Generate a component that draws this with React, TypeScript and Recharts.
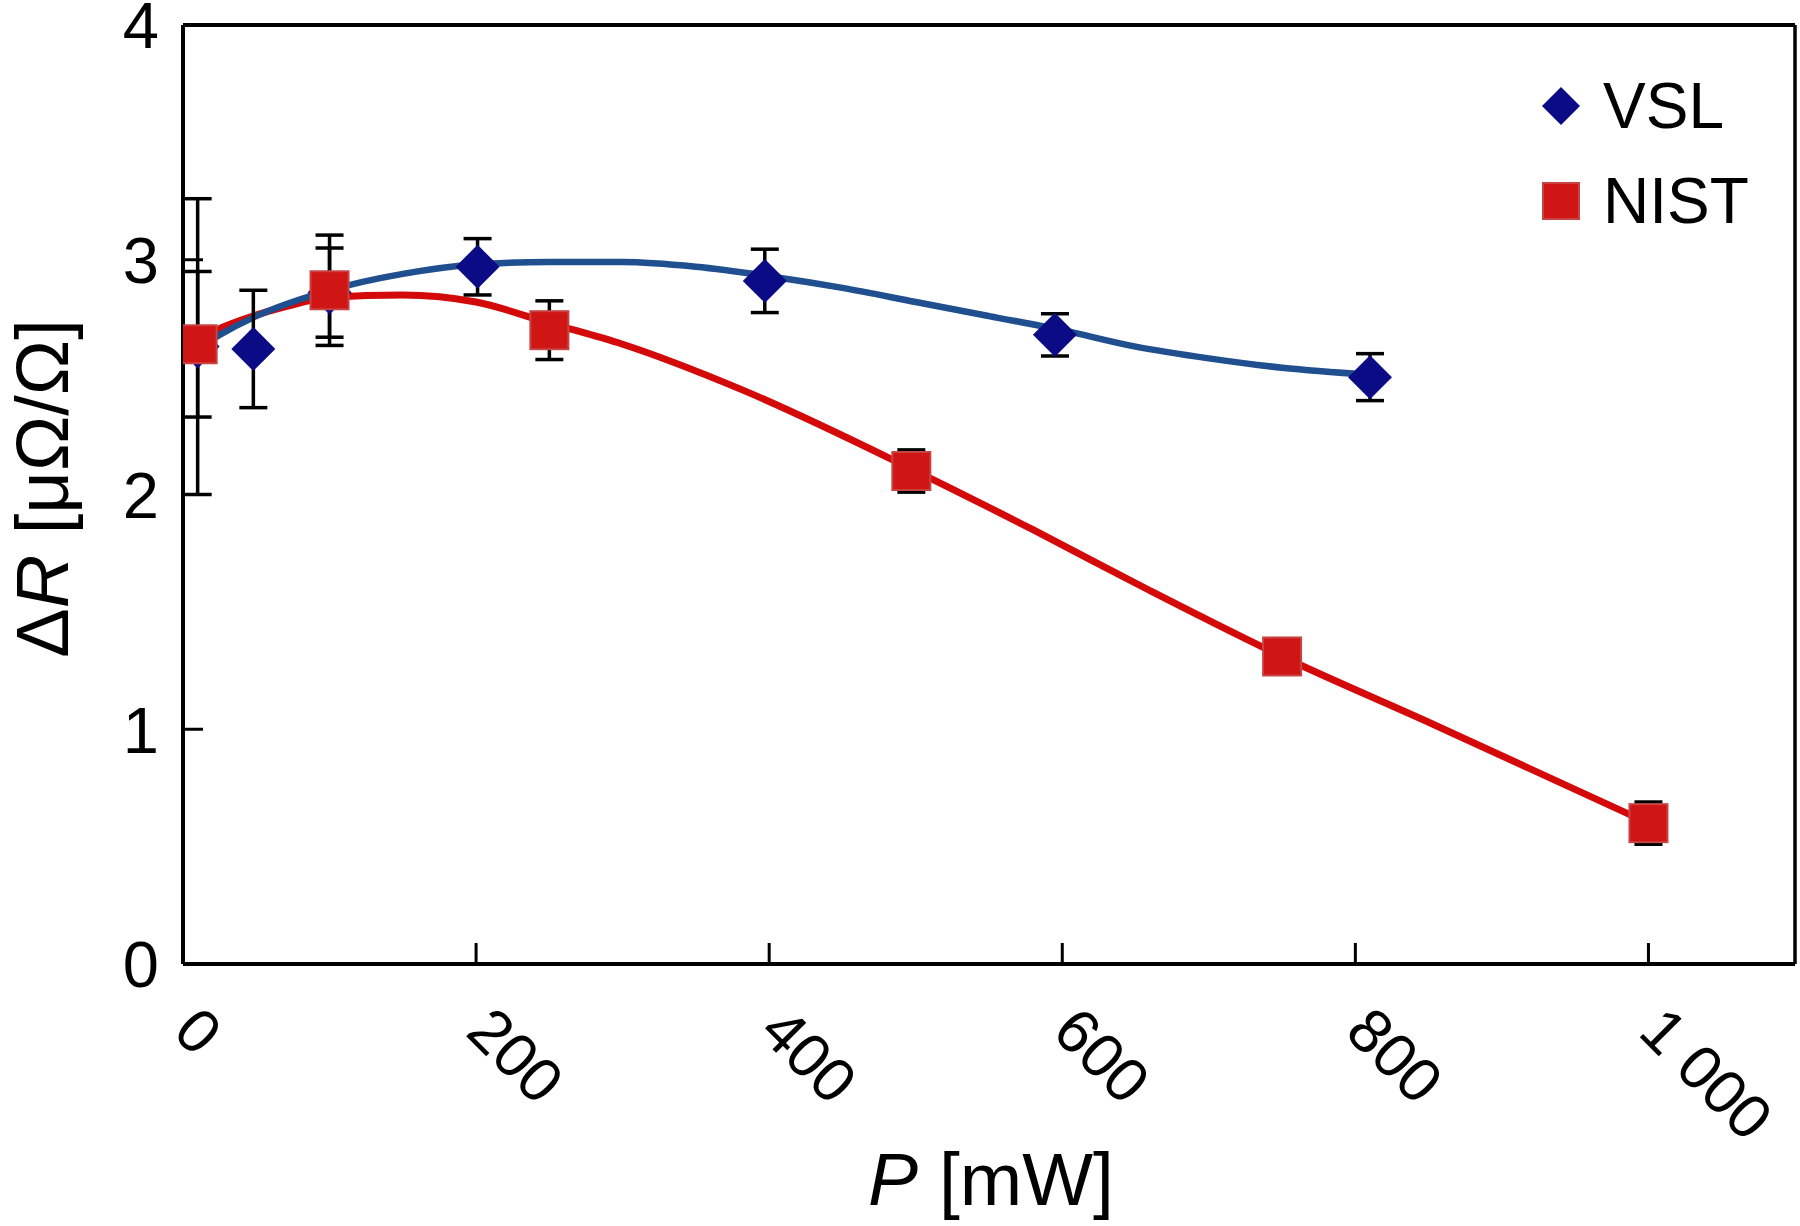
import React from 'react';
import {
  ComposedChart, Line, Scatter, ErrorBar, XAxis, YAxis, ReferenceLine,
} from 'recharts';

// measured points (P in mW, dR in uOhm/Ohm, err = half length of error bar)
const vslP = [10, 48, 100, 201, 397, 595, 810];
const vslR = [2.63, 2.62, 2.86, 2.97, 2.91, 2.68, 2.50];
const vslErr = [0.63, 0.25, 0.19, 0.12, 0.135, 0.09, 0.10];

const nistP = [10, 100, 250, 497, 750, 1000];
const nistR = [2.64, 2.87, 2.70, 2.10, 1.31, 0.60];
const nistErr = [0.31, 0.235, 0.125, 0.09, 0.05, 0.09];

// fitted curves
const vslFitP = [0, 25, 50, 100, 150, 200, 250, 300, 350, 400, 450, 500, 550, 600, 650, 700, 750, 810];
const vslFitR = [2.58, 2.68, 2.76, 2.87, 2.94, 2.98, 2.99, 2.99, 2.97, 2.93, 2.88, 2.82, 2.76, 2.70, 2.63, 2.58, 2.54, 2.51];

const nistFitP = [0, 30, 70, 100, 150, 200, 250, 300, 380, 500, 580, 660, 750, 850, 1000];
const nistFitR = [2.63, 2.72, 2.80, 2.84, 2.85, 2.82, 2.73, 2.64, 2.45, 2.10, 1.85, 1.59, 1.31, 1.03, 0.60];

const xTicks = [0, 200, 400, 600, 800, 1000];
const xTickLabels = ['0', '200', '400', '600', '800', '1 000'];
const yTicks = [0, 1, 2, 3, 4];

const FONT = '"Liberation Sans", Arial, sans-serif';

const zip = (p: number[], r: number[], e?: number[]) =>
  p.map((v, i) => (e ? { P: v, R: r[i], err: e[i] } : { P: v, R: r[i] }));

const vslData = zip(vslP, vslR, vslErr);
const nistData = zip(nistP, nistR, nistErr);
const vslFit = zip(vslFitP, vslFitR);
const nistFit = zip(nistFitP, nistFitR);

const Diamond = (props: any) => {
  const { cx, cy } = props;
  const s = 22;
  return <path d={`M${cx},${cy - s}L${cx + s},${cy}L${cx},${cy + s}L${cx - s},${cy}Z`} fill="#0b0b85" />;
};

const Square = (props: any) => {
  const { cx, cy } = props;
  const s = 19;
  return <rect x={cx - s} y={cy - s} width={2 * s} height={2 * s} fill="#d01515" stroke="#c84444" strokeWidth={2} />;
};

const XTick = (props: any) => {
  const { x, y, payload } = props;
  const idx = xTicks.indexOf(payload.value);
  const tx = x - 12;
  const ty = y + 70;
  return (
    <g>
      <line x1={x} y1={y} x2={x} y2={y - 21} stroke="#000" strokeWidth={3} />
      <text x={tx} y={ty} transform={`rotate(45, ${tx}, ${ty})`} fontSize={62} fontFamily={FONT} fill="#000">
        {xTickLabels[idx]}
      </text>
    </g>
  );
};

const YTick = (props: any) => {
  const { x, y, payload } = props;
  return (
    <g>
      <line x1={x} y1={y} x2={x + 20} y2={y} stroke="#000" strokeWidth={3} />
      <text x={x - 24} y={y} dy="0.36em" textAnchor="end" fontSize={65} fontFamily={FONT} fill="#000">
        {payload.value}
      </text>
    </g>
  );
};

const YLabel = (props: any) => {
  const { viewBox } = props;
  const cx = viewBox.x + 68;
  const cy = viewBox.y + viewBox.height / 2 - 6;
  return (
    <text x={cx} y={cy} transform={`rotate(-90, ${cx}, ${cy})`} textAnchor="middle" fontSize={74} fontFamily={FONT} fill="#000">
      Δ<tspan fontStyle="italic">R</tspan> [μΩ/Ω]
    </text>
  );
};

const XLabel = (props: any) => {
  const { viewBox } = props;
  const cx = viewBox.x + viewBox.width / 2 + 2;
  const cy = viewBox.y + 241;
  return (
    <text x={cx} y={cy} textAnchor="middle" fontSize={75} fontFamily={FONT} fill="#000">
      <tspan fontStyle="italic">P</tspan> [mW]
    </text>
  );
};

const LegendBox = () => (
  <div style={{ position: 'absolute', left: 1541, top: 58, fontFamily: FONT, fontSize: 64, color: '#000', lineHeight: 1 }}>
    <div style={{ display: 'flex', alignItems: 'center', height: 95 }}>
      <svg width={40} height={40} style={{ marginRight: 22 }}>
        <path d="M20,1L39,20L20,39L1,20Z" fill="#0b0b85" />
      </svg>
      <span>VSL</span>
    </div>
    <div style={{ display: 'flex', alignItems: 'center', height: 95 }}>
      <svg width={40} height={40} style={{ marginRight: 22 }}>
        <rect x={2} y={2} width={36} height={36} fill="#d01515" stroke="#c84444" strokeWidth={2} />
      </svg>
      <span>NIST</span>
    </div>
  </div>
);

export default function App() {
  return (
    <div style={{ position: 'absolute', left: 0, top: 0, width: 1800, height: 1226, background: '#fff' }}>
      <ComposedChart width={1800} height={1226} margin={{ top: 25, right: 5, bottom: 0, left: 0 }}>
        <XAxis
          type="number"
          dataKey="P"
          domain={[0, 1100]}
          ticks={xTicks}
          tick={<XTick />}
          tickLine={false}
          tickSize={0}
          tickMargin={0}
          height={262}
          axisLine={{ stroke: '#000', strokeWidth: 4 }}
          allowDataOverflow
          label={{ content: <XLabel /> } as any}
        />
        <YAxis
          type="number"
          dataKey="R"
          domain={[0, 4]}
          ticks={yTicks}
          tick={<YTick />}
          tickLine={false}
          tickSize={0}
          tickMargin={0}
          width={183}
          axisLine={{ stroke: '#000', strokeWidth: 4 }}
          allowDataOverflow
          label={{ content: <YLabel /> } as any}
        />
        <ReferenceLine y={4} stroke="#000" strokeWidth={4} />
        <ReferenceLine x={1100} stroke="#000" strokeWidth={3.5} />
        <Line data={nistFit} dataKey="R" type="monotone" stroke="#d40a0a" strokeWidth={7} dot={false} activeDot={false} isAnimationActive={false} legendType="none" />
        <Line data={vslFit} dataKey="R" type="monotone" stroke="#1f4f8f" strokeWidth={6.5} dot={false} activeDot={false} isAnimationActive={false} legendType="none" />
        <Scatter name="VSL" data={vslData} dataKey="R" shape={<Diamond />} isAnimationActive={false}>
          <ErrorBar dataKey="err" direction="y" width={14} stroke="#000" strokeWidth={3.5} />
        </Scatter>
        <Scatter name="NIST" data={nistData} dataKey="R" shape={<Square />} isAnimationActive={false}>
          <ErrorBar dataKey="err" direction="y" width={14} stroke="#000" strokeWidth={3.5} />
        </Scatter>
      </ComposedChart>
      <LegendBox />
    </div>
  );
}
